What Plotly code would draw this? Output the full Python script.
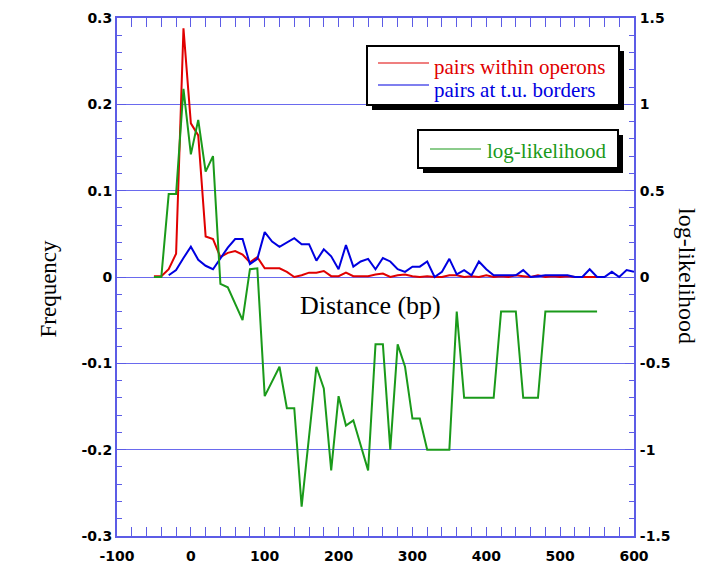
import plotly.graph_objects as go

# Distance bins (bp) and the per-bin values of each curve
dist_operon = list(range(-50, 560, 10))
freq_operon = [0.001, 0.001, 0.009, 0.027, 0.288, 0.178, 0.164, 0.047, 0.044, 0.023,
               0.028, 0.030, 0.026, 0.017, 0.023, 0.010, 0.010, 0.010, 0.006, 0.000,
               0.002, 0.005, 0.005, 0.007, 0.001, 0.001, 0.005, 0.001, 0.001, 0.001,
               0.003, 0.004, 0.000, 0.002, 0.003, 0.001, 0.000, 0.001, 0.000, 0.000,
               0.002, 0.002, 0.000, 0.001, 0.000, 0.002, 0.000, 0.001, 0.000, 0.002,
               0.001, 0.000, 0.002, 0.000, 0.001, 0.000, 0.001, 0.000, 0.000, 0.000,
               0.000]

dist_border = list(range(-30, 610, 10))
freq_border = [0.002, 0.008, 0.022, 0.035, 0.020, 0.013, 0.009, 0.021, 0.034, 0.044,
               0.044, 0.015, 0.021, 0.052, 0.041, 0.035, 0.040, 0.045, 0.038, 0.038,
               0.019, 0.032, 0.024, 0.009, 0.037, 0.012, 0.018, 0.021, 0.009, 0.022,
               0.018, 0.009, 0.006, 0.012, 0.012, 0.018, 0.000, 0.006, 0.021, 0.003,
               0.008, 0.002, 0.018, 0.009, 0.002, 0.002, 0.002, 0.002, 0.008, 0.000,
               0.001, 0.002, 0.002, 0.002, 0.002, 0.000, 0.000, 0.009, 0.000, 0.000,
               0.006, 0.000, 0.008, 0.006]

dist_llk = list(range(-50, 560, 10))
log_likelihood = [0.0, 0.0, 0.48, 0.48, 1.09, 0.71, 0.91, 0.61, 0.70, -0.04,
                  -0.06, -0.15, -0.25, 0.045, 0.05, -0.69, -0.60, -0.52, -0.76, -0.76,
                  -1.33, -0.93, -0.52, -0.645, -1.12, -0.69, -0.86, -0.83, -0.97, -1.12,
                  -0.39, -0.39, -1.0, -0.39, -0.52, -0.82, -0.82, -1.0, -1.0, -1.0,
                  -1.0, -0.2, -0.7, -0.7, -0.7, -0.7, -0.7, -0.2, -0.2, -0.2,
                  -0.7, -0.7, -0.7, -0.2, -0.2, -0.2, -0.2, -0.2, -0.2, -0.2,
                  -0.2]

freq_ticks = [0.3, 0.2, 0.1, 0, -0.1, -0.2, -0.3]
freq_labels = ["0.3", "0.2", "0.1", "0", "-0.1", "-0.2", "-0.3"]
llk_ticks = [1.5, 1, 0.5, 0, -0.5, -1, -1.5]
llk_labels = ["1.5", "1", "0.5", "0", "-0.5", "-1", "-1.5"]
dist_ticks = [-100, 0, 100, 200, 300, 400, 500, 600]
dist_labels = ["-100", "0", "100", "200", "300", "400", "500", "600"]

RED = "#e00000"
BLUE = "#0000e0"
GREEN = "#1a9a1a"
AXIS = "#5c5ce6"
GRID = "#6a6aee"
CLEAR = "rgba(0,0,0,0)"

W, H = 723, 567
ML, MR, MT, MB = 117, 89, 18, 31
PW, PH = W - ML - MR, H - MT - MB


def px(x):
    return (x - ML) / PW


def py(y):
    return (H - MB - y) / PH


fig = go.Figure()
fig.add_trace(go.Scatter(x=dist_operon, y=freq_operon, mode="lines",
                         line=dict(color=RED, width=2), name="pairs within operons"))
fig.add_trace(go.Scatter(x=dist_border, y=freq_border, mode="lines",
                         line=dict(color=BLUE, width=2), name="pairs at t.u. borders"))
fig.add_trace(go.Scatter(x=dist_llk, y=log_likelihood, mode="lines", yaxis="y2",
                         line=dict(color=GREEN, width=2), name="log-likelihood"))
# empty trace that makes the label-only distance axis part of the plot
fig.add_trace(go.Scatter(x=[], y=[], xaxis="x2", yaxis="y", mode="lines",
                         hoverinfo="skip", showlegend=False))

tickfont = dict(family="DejaVu Sans", size=14, color="black", weight="bold")
serif = "Liberation Serif"

fig.update_layout(
    width=W, height=H,
    margin=dict(l=ML, r=MR, t=MT, b=MB, pad=0),
    paper_bgcolor="white", plot_bgcolor="white",
    showlegend=False,
    # framed x axis: inside ticks on both edges, labels come from xaxis2
    xaxis=dict(range=[-100, 600], tickmode="array", tickvals=dist_ticks,
               showticklabels=False, automargin=False,
               ticks="inside", ticklen=9, tickwidth=1.3, tickcolor=AXIS,
               showline=True, linecolor=AXIS, linewidth=2, mirror="allticks",
               showgrid=False, zeroline=False,
               minor=dict(tickmode="linear", tick0=0, dtick=20, ticks="inside",
                          ticklen=5, tickwidth=1, tickcolor=AXIS)),
    # label-only axis (transparent outside ticks push labels off the frame)
    xaxis2=dict(range=[-100, 600], overlaying="x", anchor="y", side="bottom",
                tickmode="array", tickvals=dist_ticks, ticktext=dist_labels,
                ticks="outside", ticklen=7, tickcolor=CLEAR, automargin=False,
                showline=False, showgrid=False, zeroline=False, tickfont=tickfont),
    yaxis=dict(range=[-0.3, 0.3], tickmode="array", tickvals=freq_ticks, ticktext=freq_labels,
               ticks="inside", ticklen=9, tickwidth=1.3, tickcolor=AXIS, automargin=False,
               showline=True, linecolor=AXIS, linewidth=2, mirror=True,
               showgrid=True, gridcolor=GRID, gridwidth=1, zeroline=False,
               tickfont=tickfont,
               minor=dict(tickmode="linear", tick0=0, dtick=0.02, ticks="inside",
                          ticklen=5, tickwidth=1, tickcolor=AXIS)),
    yaxis2=dict(range=[-1.5, 1.5], overlaying="y", side="right", tickmode="array",
                tickvals=llk_ticks, ticktext=[" " + t for t in llk_labels],
                ticks="inside", ticklen=9, tickwidth=1.3, tickcolor=AXIS, automargin=False,
                showline=False, showgrid=False, zeroline=False,
                tickfont=tickfont,
                minor=dict(tickmode="linear", tick0=0, dtick=0.1, ticks="inside",
                           ticklen=5, tickwidth=1, tickcolor=AXIS)),
)

# Axis titles
fig.add_annotation(text="Distance (bp)", xref="paper", yref="paper", x=px(370), y=py(305),
                   showarrow=False, font=dict(family=serif, size=26, color="black"))
fig.add_annotation(text="Frequency", xref="paper", yref="paper", x=px(33), y=py(289),
                   textangle=-90, showarrow=False, font=dict(family=serif, size=23, color="black"))
fig.add_annotation(text="log-likelihood", xref="paper", yref="paper", x=px(702), y=py(276),
                   textangle=90, showarrow=False, font=dict(family=serif, size=24, color="black"))


def legend_box(x0, y0, x1, y1):
    # drop shadow then framed white box
    fig.add_shape(type="rect", xref="paper", yref="paper",
                  x0=px(x0 + 5), x1=px(x1 + 5), y0=py(y1 + 5), y1=py(y0 + 5),
                  fillcolor="black", line=dict(width=0), layer="above")
    fig.add_shape(type="rect", xref="paper", yref="paper",
                  x0=px(x0), x1=px(x1), y0=py(y1), y1=py(y0),
                  fillcolor="white", line=dict(color="black", width=2), layer="above")


def legend_entry(lx0, lx1, ly, tx, ty, label, color):
    fig.add_shape(type="line", xref="paper", yref="paper",
                  x0=px(lx0), x1=px(lx1), y0=py(ly), y1=py(ly),
                  line=dict(color=color, width=1.2), layer="above")
    fig.add_annotation(text=label, xref="paper", yref="paper", x=px(tx), y=py(ty),
                       xanchor="left", yanchor="middle", showarrow=False,
                       font=dict(family=serif, size=21, color=color))


legend_box(367, 46, 619, 105)
legend_entry(378, 429, 63, 432, 67, "pairs within operons", RED)
legend_entry(378, 429, 85, 432, 90, "pairs at t.u. borders", BLUE)
legend_box(418, 130, 618, 168)
legend_entry(430, 481, 149, 485, 151, "log-likelihood", GREEN)

fig.write_html("out.html")
